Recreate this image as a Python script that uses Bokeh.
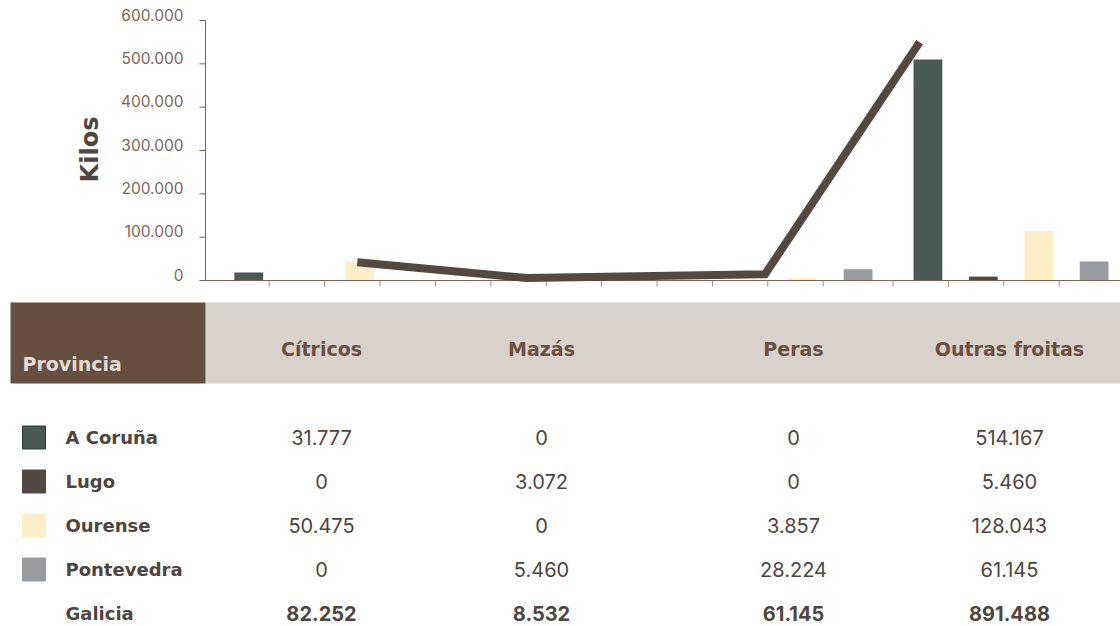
import math
from bokeh.plotting import figure
from bokeh.models import Range1d
from bokeh.embed import file_html
from bokeh.resources import INLINE
from bokeh.core.properties import value

# ---------------- data ----------------
categories = ["Cítricos", "Mazás", "Peras", "Outras froitas"]
provinces = ["A Coruña", "Lugo", "Ourense", "Pontevedra"]

# bar heights as drawn in the chart (kilos)
bars_acoruna = [18500, 0, 0, 510000]
bars_lugo = [0, 3000, 0, 9000]
bars_ourense = [44000, 0, 5300, 114000]
bars_pontevedra = [0, 5000, 26000, 44000]

# Galicia line as drawn (kilos) and its position along the bar slots
line_galicia = [42000, 6000, 14500, 550000]
line_slot = [2.74, 5.79, 10.1, 12.89]

# table values
tab_acoruna = [31777, 0, 0, 514167]
tab_lugo = [0, 3072, 0, 5460]
tab_ourense = [50475, 0, 3857, 128043]
tab_pontevedra = [0, 5460, 28224, 61145]
tab_galicia = [82252, 8532, 61145, 891488]

y_ticks = [0, 100000, 200000, 300000, 400000, 500000, 600000]
y_tick_labels = ["0", "100.000", "200.000", "300.000", "400.000", "500.000", "600.000"]

# ---------------- style / layout ----------------
prov_colors = ["#4a5b53", "#544842", "#fcefc8", "#989ca0"]
line_color = "#544842"
axis_color = "#7a6255"
xtick_color = "#9a8c84"
tick_label_color = "#7b6558"
text_dark = "#4d4540"
band_color = "#d9d2cc"
brown_cell = "#664f40"
header_text = "#6b4f3f"

W, H = 1120, 626
AX_X = 205          # pixel column of the value axis
AX_Y0 = 280         # pixel row of value 0
AX_Y1 = 20          # pixel row of 600.000
SLOT_PX = 55.4
GAP = 0.26
KPP = 600000 / (AX_Y0 - AX_Y1)   # kilos per pixel

def fmt(v):
    return f"{v:,}".replace(",", ".")

x_start = -AX_X / SLOT_PX
x_end = (W - AX_X) / SLOT_PX
y_start = -(H - AX_Y0) * KPP
y_end = AX_Y0 * KPP

p = figure(width=W, height=H, x_range=Range1d(x_start, x_end), y_range=Range1d(y_start, y_end),
           output_backend="svg", toolbar_location=None, min_border=0,
           x_axis_type=None, y_axis_type=None)
p.extra_x_ranges = {"px": Range1d(0, W)}
p.extra_y_ranges = {"px": Range1d(H, 0)}
p.outline_line_color = None
p.xgrid.visible = False
p.ygrid.visible = False
p.background_fill_color = "white"
p.border_fill_color = "white"
PX = dict(x_range_name="px", y_range_name="px")

# ---------------- chart ----------------
series = [bars_acoruna, bars_lugo, bars_ourense, bars_pontevedra]
bx, btop, bcol = [], [], []
for c in range(len(categories)):
    for pi in range(len(provinces)):
        k = 4 * c + pi
        bx.append(k + 0.78 + (GAP if c == 3 else 0))
        btop.append(series[pi][c])
        bcol.append(prov_colors[pi])
p.vbar(x=bx, top=btop, bottom=0, width=0.52, fill_color=bcol, line_color=None)

# axes
x_ticks = [k + 0.15 + (GAP if k >= 12 else 0) for k in range(1, 16)]
p.segment(x0=[0], y0=[0], x1=[x_end], y1=[0], line_color=axis_color, line_width=1)
p.ray(x=x_ticks, y=[0] * len(x_ticks), length=6, length_units="screen", angle=-math.pi / 2,
      line_color=xtick_color, line_width=1)
p.segment(x0=[0], y0=[0], x1=[0], y1=[y_ticks[-1]], line_color=axis_color, line_width=1)
p.ray(x=[0] * len(y_ticks), y=y_ticks, length=6, length_units="screen", angle=math.pi,
      line_color=axis_color, line_width=1)
p.text(x=[0] * len(y_ticks), y=y_ticks, text=y_tick_labels, x_offset=-22, y_offset=-6,
       text_align="right", text_baseline="middle", text_font=value("Inter"),
       text_font_size="15.5px", text_color=tick_label_color)
p.text(x=[89], y=[149], text=["Kilos"], angle=math.pi / 2, text_align="center",
       text_baseline="middle", text_font=value("DejaVu Sans"), text_font_style="bold",
       text_font_size="24px", text_color=text_dark, **PX)

p.line(x=line_slot, y=line_galicia, line_width=8, line_color=line_color,
       line_join="miter", line_cap="butt")

# ---------------- table ----------------
BAND_TOP, BAND_BOTTOM = 302, 383
p.quad(left=[205], right=[W], top=[BAND_TOP], bottom=[BAND_BOTTOM], fill_color=band_color,
       line_color=None, **PX)
p.quad(left=[10], right=[205], top=[BAND_TOP], bottom=[BAND_BOTTOM], fill_color=brown_cell,
       line_color=None, **PX)

col_x = [321, 541, 793, 1009]
p.text(x=col_x, y=[348] * 4, text=categories, text_align="center", text_baseline="middle",
       text_font=value("DejaVu Sans"), text_font_style="bold", text_font_size="19px",
       text_color=header_text, **PX)
p.text(x=[22], y=[363], text=["Provincia"], text_align="left", text_baseline="middle",
       text_font=value("DejaVu Sans"), text_font_style="bold", text_font_size="19px",
       text_color="#e3dad2", **PX)

row_names = provinces + ["Galicia"]
row_y = [437 + i * 44 for i in range(5)]
p.rect(x=[33.5] * 4, y=row_y[:4], width=23, height=23, fill_color=prov_colors,
       line_color=["#2d3832", "#544842", "#fcefc8", "#989ca0"], line_width=1, **PX)
p.text(x=[65] * 5, y=row_y, text=row_names, text_align="left", text_baseline="middle",
       text_font=value("DejaVu Sans"), text_font_style="bold", text_font_size="18px",
       text_color=text_dark, **PX)

tables = [tab_acoruna, tab_lugo, tab_ourense, tab_pontevedra]
nx, ny, nt = [], [], []
for i, vals in enumerate(tables):
    for j, v in enumerate(vals):
        nx.append(col_x[j]); ny.append(row_y[i]); nt.append(fmt(v))
p.text(x=nx, y=ny, text=nt, text_align="center", text_baseline="middle",
       text_font=value("Inter"), text_font_size="20px", text_color=text_dark, **PX)
p.text(x=col_x, y=[row_y[4]] * 4, text=[fmt(v) for v in tab_galicia], text_align="center",
       text_baseline="middle", text_font=value("Inter"), text_font_style="bold",
       text_font_size="20px", text_color=text_dark, **PX)

open("out.html", "w").write(file_html(p, INLINE))
